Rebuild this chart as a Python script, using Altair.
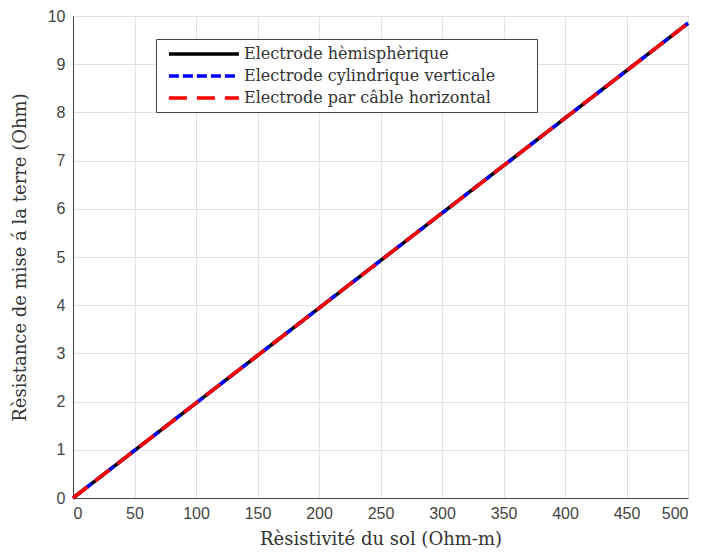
import altair as alt
import pandas as pd

# Data (three overlapping straight lines)
resistivity = [0, 100, 200, 300, 400, 500]
r_hemi = [0, 1.97, 3.94, 5.91, 7.88, 9.85]
r_cyl = [0, 1.97, 3.94, 5.91, 7.88, 9.85]
r_cable = [0, 1.97, 3.94, 5.91, 7.88, 9.85]

names = ["Electrode hèmisphèrique",
         "Electrode cylindrique verticale",
         "Electrode par câble horizontal"]
colors = ["#000000", "#0000ff", "#ff0000"]
dashes = [[1, 0], [10, 4], [18, 10]]

rows = []
for name, vals in zip(names, [r_hemi, r_cyl, r_cable]):
    for x, y in zip(resistivity, vals):
        rows.append({"rho": x, "R": y, "serie": name})
df = pd.DataFrame(rows)

x_enc = alt.X("rho:Q", scale=alt.Scale(domain=[0, 500], nice=False),
              axis=alt.Axis(values=list(range(0, 501, 50)), title="Rèsistivité du sol (Ohm-m)"))
y_enc = alt.Y("R:Q", scale=alt.Scale(domain=[0, 10], nice=False),
              axis=alt.Axis(values=list(range(0, 11)), title="Rèsistance de mise á la terre (Ohm)"))

pad = "\u2800" * 3
legend = alt.Legend(title=None, orient="none", legendX=83, legendY=23,
                    symbolType="M-0.3,0H9.7", symbolSize=196, symbolStrokeWidth=3.5,
                    labelFont="DejaVu Serif", labelFontSize=16, labelColor="#333333",
                    labelExpr="datum.label + '" + pad + "'",
                    fillColor="white", strokeColor="#444444", padding=6,
                    rowPadding=5, labelOffset=64, labelLimit=600)

color_enc = alt.Color("serie:N", scale=alt.Scale(domain=names, range=colors), legend=legend)
dash_enc = alt.StrokeDash("serie:N", scale=alt.Scale(domain=names, range=dashes), legend=legend)

layers = []
for name in names:
    layers.append(
        alt.Chart(df).transform_filter(alt.datum.serie == name)
        .mark_line(strokeWidth=3.5, strokeCap="butt")
        .encode(x=x_enc, y=y_enc, color=color_enc, strokeDash=dash_enc)
    )

chart = alt.layer(*layers).properties(
    width=615, height=482,
    autosize=alt.AutoSizeParams(type="none"),
    padding={"left": 73, "top": 16, "right": 17, "bottom": 56},
    background="white",
).configure_view(
    stroke="#444444", strokeWidth=1
).configure_axis(
    grid=True, gridColor="#e3e3e3", gridWidth=1,
    domainColor="#444444", ticks=False,
    labelFont="Liberation Sans", labelFontSize=16, labelColor="#444444",
    titleFont="DejaVu Serif", titleFontSize=18, titleFontWeight="normal", titleColor="#333333",
).configure_axisX(
    labelPadding=7, titlePadding=9
).configure_axisY(
    labelPadding=8, titlePadding=18
)

chart.save("out.html", embed_options={"renderer": "svg", "actions": False})
